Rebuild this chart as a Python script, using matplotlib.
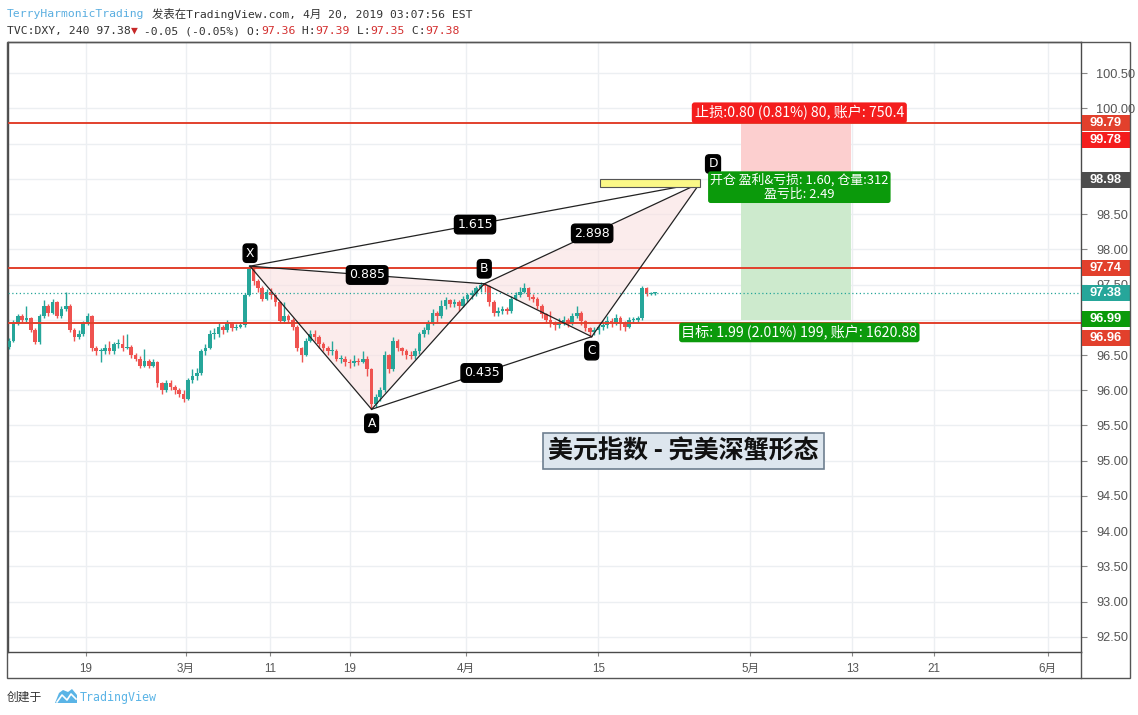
import matplotlib
matplotlib.use('Agg')
import matplotlib.pyplot as plt
from matplotlib.patches import Rectangle, Polygon
from matplotlib.transforms import blended_transform_factory, ScaledTranslation
import matplotlib.font_manager as fm

# ---------------- data ----------------
first_open = 96.62
closes = [96.70, 96.95, 97.05, 97.00, 97.02, 96.85, 96.68, 97.05, 97.20, 97.10,
          97.25, 97.05, 97.15, 97.20, 96.85, 96.75, 96.80, 96.95, 97.05, 96.60,
          96.55, 96.55, 96.60, 96.55, 96.65, 96.65, 96.60, 96.62, 96.50, 96.45,
          96.35, 96.42, 96.35, 96.40, 96.10, 96.00, 96.10, 96.05, 96.00, 95.95,
          95.88, 96.15, 96.20, 96.25, 96.55, 96.60, 96.80, 96.80, 96.90, 96.85,
          96.95, 96.88, 96.90, 96.92, 97.35, 97.72, 97.55, 97.45, 97.30, 97.40,
          97.35, 97.25, 96.98, 97.05, 97.00, 96.90, 96.60, 96.50, 96.70, 96.80,
          96.75, 96.65, 96.60, 96.55, 96.55, 96.45, 96.45, 96.40, 96.38, 96.42,
          96.40, 96.45, 96.30, 95.80, 95.90, 96.00, 96.50, 96.30, 96.70, 96.60,
          96.55, 96.50, 96.48, 96.55, 96.80, 96.85, 96.95, 97.10, 97.05, 97.20,
          97.28, 97.22, 97.25, 97.20, 97.30, 97.35, 97.38, 97.45, 97.50, 97.48,
          97.25, 97.10, 97.12, 97.15, 97.12, 97.30, 97.35, 97.40, 97.45, 97.32,
          97.30, 97.20, 97.08, 97.00, 96.95, 96.92, 96.97, 97.00, 96.95, 97.05,
          97.10, 96.98, 96.88, 96.82, 96.85, 96.90, 96.92, 96.98, 96.95, 97.02,
          96.95, 96.90, 97.00, 97.00, 97.02, 97.45, 97.36, 97.38, 97.38]
highs = [96.74, 97.00, 97.08, 97.08, 97.20, 97.04, 96.88, 97.08, 97.28, 97.22,
         97.30, 97.27, 97.20, 97.39, 97.22, 96.88, 96.85, 96.98, 97.10, 97.07,
         96.63, 96.60, 96.65, 96.70, 96.68, 96.72, 96.78, 96.80, 96.64, 96.53,
         96.48, 96.58, 96.45, 96.45, 96.42, 96.12, 96.15, 96.14, 96.08, 96.03,
         96.00, 96.18, 96.30, 96.32, 96.58, 96.65, 96.85, 96.88, 96.95, 96.92,
         97.00, 96.97, 96.94, 96.96, 97.38, 97.77, 97.74, 97.58, 97.48, 97.44,
         97.45, 97.37, 97.27, 97.25, 97.08, 97.02, 96.92, 96.62, 96.74, 96.85,
         96.85, 96.78, 96.68, 96.63, 96.70, 96.58, 96.50, 96.48, 96.45, 96.50,
         96.46, 96.55, 96.48, 96.32, 95.95, 96.05, 96.55, 96.52, 96.75, 96.72,
         96.62, 96.58, 96.55, 96.60, 96.83, 96.90, 97.00, 97.15, 97.12, 97.28,
         97.32, 97.30, 97.30, 97.28, 97.34, 97.38, 97.42, 97.48, 97.53, 97.52,
         97.50, 97.28, 97.18, 97.20, 97.18, 97.34, 97.40, 97.46, 97.52, 97.47,
         97.36, 97.32, 97.22, 97.10, 97.12, 96.98, 97.02, 97.05, 97.02, 97.10,
         97.20, 97.12, 97.00, 96.90, 96.90, 96.94, 96.98, 97.05, 97.02, 97.08,
         97.05, 96.98, 97.04, 97.04, 97.06, 97.48, 97.47, 97.40, 97.39]
lows = [96.58, 96.68, 96.92, 96.97, 96.97, 96.82, 96.65, 96.66, 97.02, 97.05,
        97.08, 97.02, 97.03, 97.12, 96.82, 96.70, 96.72, 96.77, 96.92, 96.55,
        96.50, 96.40, 96.52, 96.52, 96.52, 96.60, 96.56, 96.58, 96.46, 96.42,
        96.32, 96.33, 96.32, 96.33, 96.05, 95.95, 95.98, 96.00, 95.95, 95.90,
        95.83, 95.86, 96.10, 96.15, 96.22, 96.50, 96.58, 96.72, 96.76, 96.80,
        96.82, 96.84, 96.85, 96.88, 96.90, 97.33, 97.50, 97.40, 97.27, 97.28,
        97.30, 97.20, 96.95, 96.95, 96.95, 96.85, 96.55, 96.40, 96.48, 96.68,
        96.70, 96.60, 96.55, 96.50, 96.50, 96.42, 96.38, 96.35, 96.32, 96.35,
        96.36, 96.38, 96.20, 95.73, 95.76, 95.85, 95.98, 96.25, 96.28, 96.55,
        96.50, 96.45, 96.44, 96.45, 96.52, 96.76, 96.80, 96.92, 96.95, 97.02,
        97.15, 97.18, 97.18, 97.12, 97.18, 97.25, 97.30, 97.34, 97.40, 97.40,
        97.20, 97.05, 97.05, 97.08, 97.08, 97.10, 97.28, 97.32, 97.38, 97.28,
        97.25, 97.15, 97.03, 96.95, 96.90, 96.85, 96.88, 96.92, 96.90, 96.92,
        97.02, 96.93, 96.84, 96.76, 96.78, 96.80, 96.86, 96.88, 96.90, 96.92,
        96.85, 96.84, 96.88, 96.95, 96.97, 97.00, 97.34, 97.35, 97.35]

tick_days = [0, 7.6, 14.05, 20.15, 29.0, 39.1, 50.7, 58.5, 64.7, 73.4]
tick_labels = ['19', '3月', '11', '19', '4月', '15', '5月', '13', '21', '6月']
price_ticks = [92.5, 93.0, 93.5, 94.0, 94.5, 95.0, 95.5, 96.0, 96.5, 97.0,
               97.5, 98.0, 98.5, 99.0, 99.5, 100.0, 100.5]
hidden_price_labels = [97.0, 99.0, 99.5]   # covered by price tags in the reference

point_names = ['X', 'A', 'B', 'C', 'D']
point_days = [12.52, 21.8, 30.4, 38.6, 46.87]
point_prices = [97.76, 95.73, 97.51, 96.76, 98.94]
ratio_pairs = [('X', 'B', '0.885'), ('A', 'C', '0.435'), ('B', 'D', '2.898'), ('X', 'D', '1.615')]

hline_prices = [99.79, 97.74, 96.96]
current_price = 97.38
entry_price, stop_price, target_price = 98.98, 99.78, 96.99
position_days = (50.0, 58.4)
zone_days = (39.2, 46.87)
zone_prices = (98.88, 98.99)

axis_tags = ['99.79', '99.78', '98.98', '97.74', '97.38', '96.99', '96.96']
stop_text = '止损:0.80 (0.81%) 80, 账户: 750.4'
entry_text = '开仓 盈利&亏损: 1.60, 仓量:312\n盈亏比: 2.49'
target_text = '目标: 1.99 (2.01%) 199, 账户: 1620.88'
title_text = '美元指数 - 完美深蟹形态'
title_pos = (45.6, 95.14)
header_author = 'TerryHarmonicTrading'
header_pub = '发表在TradingView.com, 4月 20, 2019 03:07:56 EST'
legend_segments = [('TVC:DXY, 240 97.38', 'dark'), ('▼', 'arrow'),
                   (' -0.05 (-0.05%) O:', 'dark'), ('97.36', 'red'), (' H:', 'dark'),
                   ('97.39', 'red'), (' L:', 'dark'), ('97.35', 'red'), (' C:', 'dark'),
                   ('97.38', 'red')]

# ---------------- style ----------------
W, H = 1138, 715
UP, DOWN = '#26a69a', '#ef5350'
LINE_RED = '#e2402c'
CJK = ['Noto Sans CJK SC', 'DejaVu Sans']
avail = {f.name for f in fm.fontManager.ttflist}
NARROW = 'Liberation Sans Narrow' if 'Liberation Sans Narrow' in avail else 'Liberation Sans'
MONO = ['DejaVu Sans Mono', 'Noto Sans CJK SC', 'DejaVu Sans']

fig = plt.figure(figsize=(W / 100, H / 100), dpi=100)
fig.patch.set_facecolor('white')


def fx(x):
    return x / W


def fy(y):
    return 1 - y / H


L, R, T, B = 8, 1081, 42, 652
ax = fig.add_axes([fx(L), fy(B), fx(R - L), (B - T) / H])
ax.set_xlim(-5.954, 75.95)
ax.set_ylim(92.287, 100.94)

# grid / ticks
ax.set_axisbelow(True)
ax.set_yticks(price_ticks)
ax.set_yticklabels(['' if p in hidden_price_labels else '%.2f' % p for p in price_ticks])
ax.set_xticks(tick_days)
ax.set_xticklabels(tick_labels)
ax.grid(True, color='#eceff2', lw=1)
ax.yaxis.tick_right()
ax.tick_params(axis='y', length=4, width=0.8, color='#888', pad=7,
               labelsize=9.2, labelcolor='#555')
ax.tick_params(axis='x', length=3, width=0.8, color='#888', pad=5,
               labelsize=8.4, labelcolor='#555')
for lab in ax.get_yticklabels():
    lab.set_fontfamily(NARROW)
for lab in ax.get_xticklabels():
    lab.set_fontfamily([NARROW, 'Noto Sans CJK SC'])
for s in ax.spines.values():
    s.set_color('#4a4a4a')
    s.set_linewidth(1)

# candles
prev = first_open
for i, (c, h, l) in enumerate(zip(closes, highs, lows)):
    x = -5.88 + i / 3
    o = prev
    col = UP if c >= o else DOWN
    ax.vlines(x, l, h, color=col, lw=1.0, zorder=3)
    hgt = max(abs(c - o), 0.014)
    ax.bar(x, hgt, bottom=min(o, c), width=0.28, color=col, lw=0, zorder=3)
    prev = c

# horizontal lines
for p in hline_prices:
    ax.axhline(p, color=LINE_RED, lw=1.4, zorder=4)
ax.axhline(current_price, color=UP, lw=0.9, ls=(0, (1, 2)), zorder=4)

# position tool
x0, x1 = position_days
ax.add_patch(Rectangle((x0, entry_price), x1 - x0, stop_price - entry_price,
                       facecolor='#fccfcf', edgecolor='none', zorder=2))
ax.add_patch(Rectangle((x0, target_price), x1 - x0, entry_price - target_price,
                       facecolor='#cdeacd', edgecolor='none', zorder=2))

# harmonic pattern
pts = dict(zip(point_names, zip(point_days, point_prices)))
for tri in (('X', 'A', 'B'), ('B', 'C', 'D')):
    ax.add_patch(Polygon([pts[k] for k in tri], closed=True, facecolor='#f9dede',
                         alpha=0.55, edgecolor='none', zorder=2.5))
for a, b in [('X', 'A'), ('A', 'B'), ('B', 'C'), ('C', 'D'), ('X', 'B'),
             ('A', 'C'), ('B', 'D'), ('X', 'D')]:
    ax.plot([pts[a][0], pts[b][0]], [pts[a][1], pts[b][1]], color='#222', lw=0.9, zorder=5)

# entry zone
ax.add_patch(Rectangle((zone_days[0], zone_prices[0]), zone_days[1] - zone_days[0],
                       zone_prices[1] - zone_prices[0], facecolor='#fbf887',
                       edgecolor='#555', lw=0.8, zorder=5))

tagbox = dict(boxstyle='round,pad=0.22,rounding_size=0.3', fc='black', ec='black')
for a, b, txt in ratio_pairs:
    mx = (pts[a][0] + pts[b][0]) / 2
    my = (pts[a][1] + pts[b][1]) / 2
    ax.text(mx, my, txt, color='white', fontsize=9, ha='center', va='center',
            bbox=tagbox, zorder=7, family='DejaVu Sans')
label_offsets = {'X': (0, 13), 'A': (0, -14), 'B': (0, 15), 'C': (0, -14), 'D': (13, 19)}
for n in point_names:
    ax.annotate(n, pts[n], xytext=label_offsets[n], textcoords='offset pixels',
                color='white', fontsize=8.8, ha='center', va='center',
                bbox=tagbox, zorder=7, family='DejaVu Sans')

# position labels
mid = (x0 + x1) / 2 + 0.25
ax.annotate(stop_text, (mid, stop_price), xytext=(0, 11), textcoords='offset pixels',
            ha='center', va='center', color='white', fontsize=10.2, family=CJK, zorder=8,
            bbox=dict(boxstyle='round,pad=0.2,rounding_size=0.2', fc='#f41d1d', ec='none'))
ax.annotate(entry_text, (mid, entry_price), xytext=(0, -7), textcoords='offset pixels',
            ha='center', va='center', color='white', fontsize=9.3, family=CJK, zorder=8,
            linespacing=1.12, multialignment='center',
            bbox=dict(boxstyle='round,pad=0.16,rounding_size=0.2', fc='#0b9a0b', ec='none'))
ax.annotate(target_text, (mid, target_price), xytext=(0, -12), textcoords='offset pixels',
            ha='center', va='center', color='white', fontsize=10.2, family=CJK, zorder=8,
            bbox=dict(boxstyle='round,pad=0.16,rounding_size=0.2', fc='#0b9a0b', ec='none'))

# title
ax.text(title_pos[0], title_pos[1], title_text, fontsize=18, fontweight='bold',
        family=CJK, ha='center', va='center', color='#111', zorder=8,
        bbox=dict(boxstyle='square,pad=0.22', fc='#dde6ee', ec='#6e7f90', lw=1.2))

# right axis price tags
tag_colors = [LINE_RED, '#f41d1d', '#4d4d4d', LINE_RED, '#26a69a', '#0b9a0b', LINE_RED]
tag_shift = [0, 16, 0, 0, 0, -1.5, 15.5]  # pixels downward
base_tr = blended_transform_factory(fig.transFigure, ax.transData)
for txt, col, dy in zip(axis_tags, tag_colors, tag_shift):
    p = float(txt)
    tr = base_tr + ScaledTranslation(0, -dy / 100, fig.dpi_scale_trans)
    hh = 8 / 70.5
    r = Rectangle((fx(1082), p - hh), fx(48), 2 * hh, transform=tr, facecolor=col,
                  edgecolor='none', clip_on=False, zorder=9)
    ax.add_artist(r)
    ax.text(fx(1106), p, txt, transform=tr, color='white', fontsize=9.2,
            fontweight='bold', family=NARROW, ha='center', va='center',
            clip_on=False, zorder=10)

# outer frame
fig.add_artist(Rectangle((fx(7), fy(678)), fx(1130 - 7), (678 - 42) / H,
                         transform=fig.transFigure, fill=False, ec='#555', lw=1))
fig.add_artist(plt.Line2D([fx(1081), fx(1081)], [fy(678), fy(652)], color='#555', lw=1))

# header (monospace, 6.86 px per character)
CHAR = 6.86
seg_colors = {'dark': '#333', 'red': '#d32f2f', 'arrow': '#c62828'}
fig.text(fx(7), fy(14), header_author, color='#5aaee0', fontsize=8.2,
         family=MONO, va='center')
fig.text(fx(152), fy(14), header_pub, color='#333', fontsize=8.2, family=MONO, va='center')
n = 0
for s, kind in legend_segments:
    fig.text(fx(7 + n * CHAR), fy(31), s, color=seg_colors[kind], fontsize=8.2,
             family=MONO, va='center')
    n += len(s)

# footer
fig.text(fx(7), fy(697), '创建于', color='#333', fontsize=8.5, family=CJK, va='center')
fig.add_artist(Polygon([(fx(55), fy(703)), (fx(59), fy(693)), (fx(63), fy(690)),
                        (fx(68), fy(692)), (fx(72), fy(689)), (fx(77), fy(695)),
                        (fx(77), fy(703))], closed=True, transform=fig.transFigure,
                       fc='#5ab4e6', ec='none'))
fig.add_artist(plt.Line2D([fx(57), fx(62), fx(67), fx(71), fx(76)],
                          [fy(702), fy(695), fy(700), fy(694), fy(699)],
                          color='white', lw=1.2))
fig.text(fx(80), fy(697), 'TradingView', color='#5ab4e6', fontsize=8.4,
         family=MONO, va='center')

fig.savefig('out.png', dpi=100)
